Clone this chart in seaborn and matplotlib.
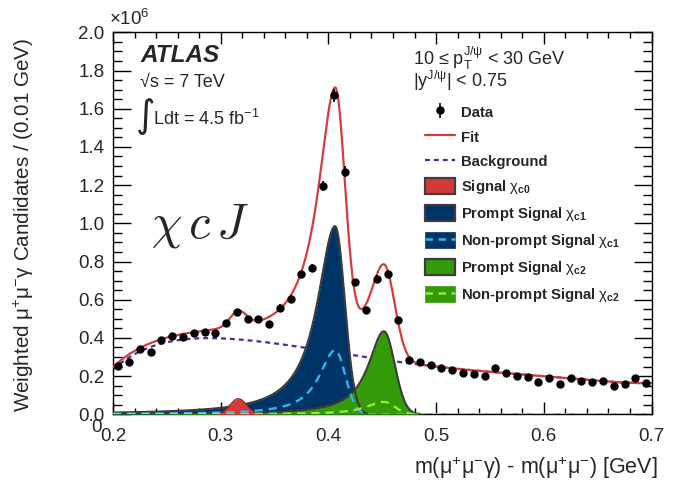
import numpy as np
import pandas as pd
import matplotlib
matplotlib.use("Agg")
import matplotlib.pyplot as plt
import seaborn as sns
from matplotlib.patches import Patch
from matplotlib.lines import Line2D
from matplotlib.legend_handler import HandlerTuple
from matplotlib.ticker import MultipleLocator, FormatStrFormatter

# ---- measured spectrum: weighted candidates per 0.01 GeV bin (units of 10^6) ----
bin_centers = [0.205, 0.215, 0.225, 0.235, 0.245, 0.255, 0.265, 0.275, 0.285, 0.295,
               0.305, 0.315, 0.325, 0.335, 0.345, 0.355, 0.365, 0.375, 0.385, 0.395,
               0.405, 0.415, 0.425, 0.435, 0.445, 0.455, 0.465, 0.475, 0.485, 0.495,
               0.505, 0.515, 0.525, 0.535, 0.545, 0.555, 0.565, 0.575, 0.585, 0.595,
               0.605, 0.615, 0.625, 0.635, 0.645, 0.655, 0.665, 0.675, 0.685, 0.695]
candidates = [0.253, 0.275, 0.340, 0.328, 0.389, 0.412, 0.407, 0.425, 0.433, 0.428,
              0.477, 0.533, 0.498, 0.498, 0.472, 0.558, 0.604, 0.732, 0.767, 1.196,
              1.670, 1.270, 0.691, 0.547, 0.710, 0.737, 0.495, 0.284, 0.272, 0.258,
              0.240, 0.232, 0.218, 0.209, 0.202, 0.242, 0.214, 0.202, 0.196, 0.168,
              0.189, 0.158, 0.189, 0.175, 0.168, 0.172, 0.149, 0.161, 0.189, 0.165]
candidate_errors = [0.013, 0.013, 0.014, 0.014, 0.015, 0.015, 0.015, 0.015, 0.015, 0.015,
                    0.016, 0.017, 0.016, 0.016, 0.016, 0.017, 0.018, 0.020, 0.020, 0.027,
                    0.035, 0.028, 0.019, 0.017, 0.019, 0.020, 0.016, 0.013, 0.013, 0.012,
                    0.012, 0.012, 0.012, 0.012, 0.012, 0.012, 0.012, 0.012, 0.011, 0.011,
                    0.011, 0.011, 0.011, 0.011, 0.011, 0.011, 0.010, 0.010, 0.011, 0.010]

# ---- fitted background, sampled along the curve ----
bkg_x = [0.200, 0.213, 0.228, 0.244, 0.261, 0.275, 0.292, 0.306, 0.322, 0.337, 0.353,
         0.368, 0.384, 0.400, 0.424, 0.450, 0.474, 0.500, 0.550, 0.600, 0.650, 0.700]
bkg_y = [0.232, 0.293, 0.337, 0.372, 0.386, 0.393, 0.398, 0.396, 0.389, 0.383, 0.373,
         0.360, 0.342, 0.327, 0.305, 0.287, 0.270, 0.252, 0.222, 0.198, 0.177, 0.164]

# ---- fitted signal line shapes: [mean, peak height, low-side width, high-side sigma] ----
chic0_shape = [0.3163, 0.082, 0.0078, 0.0078]
prompt_c1_shape = [0.4062, 0.985, 0.0200, 0.0090]
nonprompt_c1_shape = [0.4062, 0.335, 0.0180, 0.0095]
prompt_c2_shape = [0.4515, 0.435, 0.0175, 0.0100]
nonprompt_c2_shape = [0.4515, 0.065, 0.0200, 0.0100]

legend_labels = ["Data", "Fit", "Background",
                 r"Signal $\mathrm{\chi}_{\mathbf{c0}}$",
                 r"Prompt Signal $\mathrm{\chi}_{\mathbf{c1}}$",
                 r"Non-prompt Signal $\mathrm{\chi}_{\mathbf{c1}}$",
                 r"Prompt Signal $\mathrm{\chi}_{\mathbf{c2}}$",
                 r"Non-prompt Signal $\mathrm{\chi}_{\mathbf{c2}}$"]

# colours
C_FIT = "#d63c3c"
C_BKG = "#3434a8"
C_C0 = "#d23a3a"
C_C1 = "#003467"
C_C1NP = "#2fb6ea"
C_C2 = "#339a08"
C_C2NP = "#96e83c"
C_EDGE = "#3c3c3c"


def peak_shape(x, mean, height, low_width, high_sigma):
    """Asymmetric peak: Lorentzian low-mass tail, Gaussian high-mass edge."""
    d = x - mean
    low = height / (1.0 + (d / low_width) ** 2)
    high = height * np.exp(-0.5 * (d / high_sigma) ** 2)
    return np.where(d < 0, low, high)


def gauss_shape(x, mean, height, sigma, _unused):
    return height * np.exp(-0.5 * ((x - mean) / sigma) ** 2)


sns.set_style("ticks")
plt.rcParams["font.family"] = ["Liberation Sans", "DejaVu Sans"]
plt.rcParams["mathtext.fontset"] = "custom"
plt.rcParams["mathtext.rm"] = "Liberation Sans"
plt.rcParams["mathtext.it"] = "Liberation Sans:italic"
plt.rcParams["mathtext.bf"] = "Liberation Sans:bold"

W, H = 682, 484
fig = plt.figure(figsize=(W / 100, H / 100), dpi=100)
ax = fig.add_axes([113 / W, 1 - 414.3 / H, (651.5 - 113) / W, (414.3 - 32.3) / H])

# model curves on a fine grid
grid = np.linspace(0.2, 0.7, 1501)
bkg_coef = np.polyfit(bkg_x, bkg_y, 7)
bkg = np.polyval(bkg_coef, grid)
c0 = gauss_shape(grid, *chic0_shape)
c1p = peak_shape(grid, *prompt_c1_shape)
c1np = peak_shape(grid, *nonprompt_c1_shape)
c2p = peak_shape(grid, *prompt_c2_shape)
c2np = peak_shape(grid, *nonprompt_c2_shape)
fit = bkg + c0 + c1p + c1np + c2p + c2np

curves = pd.DataFrame({"x": grid, "bkg": bkg, "c0": c0, "c1p": c1p,
                       "c1np": c1np, "c2p": c2p, "c2np": c2np, "fit": fit})

# background underneath the signal fills
sns.lineplot(data=curves, x="x", y="bkg", ax=ax, color=C_BKG, lw=1.6,
             estimator=None, sort=False, zorder=2)
ax.lines[-1].set_dashes((2.2, 1.8))

# filled signal components
ax.fill_between(grid, 0, c1p, color=C_C1, lw=0, zorder=3)
ax.fill_between(grid, 0, c2p, color=C_C2, lw=0, zorder=3.2)
for col, z in (("c1p", 3.4), ("c2p", 3.5)):
    vis = curves[curves[col] > 1e-3]
    sns.lineplot(data=vis, x="x", y=col, ax=ax, color=C_EDGE, lw=1.5,
                 estimator=None, sort=False, zorder=z)
ax.fill_between(grid, 0, c0, color=C_C0, lw=0, zorder=3.6)
vis0 = curves[curves["c0"] > 1e-3]
sns.lineplot(data=vis0, x="x", y="c0", ax=ax, color="#7a2020", lw=0.8,
             estimator=None, sort=False, zorder=3.7)

# non-prompt components
for col, colour in (("c1np", C_C1NP), ("c2np", C_C2NP)):
    sns.lineplot(data=curves, x="x", y=col, ax=ax, color=colour, lw=1.7,
                 estimator=None, sort=False, zorder=4)
    ax.lines[-1].set_dashes((3.5, 2.5))

# total fit
sns.lineplot(data=curves, x="x", y="fit", ax=ax, color=C_FIT, lw=1.6,
             estimator=None, sort=False, zorder=5)

# data
data_handle = ax.errorbar(bin_centers, candidates, yerr=candidate_errors, fmt="o",
                          color="black", ms=5, elinewidth=1.2, capsize=0, zorder=6)

ax.set_xlim(0.2, 0.7)
ax.set_ylim(0.0, 2.0)
ax.xaxis.set_major_locator(MultipleLocator(0.1))
ax.xaxis.set_minor_locator(MultipleLocator(0.02))
ax.yaxis.set_major_locator(MultipleLocator(0.2))
ax.yaxis.set_minor_locator(MultipleLocator(0.05))
ax.xaxis.set_major_formatter(FormatStrFormatter("%.1f"))
ax.yaxis.set_major_formatter(FormatStrFormatter("%.1f"))
ax.tick_params(axis="both", which="both", direction="in", top=True, right=True,
               width=1.0, color="black", labelsize=13.5)
ax.tick_params(axis="x", which="major", length=8.5, pad=10)
ax.tick_params(axis="x", which="minor", length=4.3)
ax.tick_params(axis="y", which="major", length=13, pad=6)
ax.tick_params(axis="y", which="minor", length=6.5)
for s in ax.spines.values():
    s.set_linewidth(1.0)
    s.set_color("black")

ax.set_xlabel(r"m(μ$^{+}$μ$^{-}$γ) - m(μ$^{+}$μ$^{-}$) [GeV]", fontsize=15.5)
ax.xaxis.label.set_ha("right")
ax.xaxis.set_label_coords(1.011, -0.105)
ax.set_ylabel(r"Weighted μ$^{+}$μ$^{-}$γ Candidates / (0.01 GeV)", fontsize=14.9)
ax.yaxis.set_label_coords(-0.143, 0.495)


def fxy(px, py):
    return px / W, 1 - py / H


fig.text(*fxy(109, 25), r"×10$^{\mathregular{6}}$", fontsize=13.5, ha="left", va="baseline")
fig.text(*fxy(102, 427), "0", fontsize=13.5, ha="right", va="center")
fig.text(*fxy(141, 62), "ATLAS", fontsize=17.5, fontweight="bold", fontstyle="italic",
         ha="left", va="baseline")
fig.text(*fxy(140, 87), "√s = 7 TeV", fontsize=13, ha="left", va="baseline")
fig.text(*fxy(136, 117), "∫", fontsize=27, ha="left", va="center", family="DejaVu Sans")
fig.text(*fxy(153, 125), r"Ldt = 4.5 fb$^{\mathregular{-1}}$", fontsize=13,
         ha="left", va="baseline")
fig.text(*fxy(151, 237), r"$\chi\,c\,J$", fontsize=35, math_fontfamily="cm",
         ha="left", va="baseline")
fig.text(*fxy(413, 65), r"10 ≤ p$_{\mathregular{T}}^{\mathregular{J/ψ}}$ < 30 GeV",
         fontsize=13, ha="left", va="baseline")
fig.text(*fxy(413, 87), r"|y$^{\mathregular{J/ψ}}$| < 0.75", fontsize=13,
         ha="left", va="baseline")

# legend
fit_handle = Line2D([], [], color=C_FIT, lw=1.6)
bkg_handle = Line2D([], [], color=C_BKG, lw=1.6, dashes=(2.2, 1.8))
c0_handle = Patch(facecolor=C_C0, edgecolor=C_EDGE, lw=1.6)
c1p_handle = Patch(facecolor=C_C1, edgecolor=C_EDGE, lw=1.6)
c1np_handle = (Patch(facecolor=C_C1, edgecolor=C_C1, lw=0.5),
               Line2D([], [], color=C_C1NP, lw=1.8, dashes=(3.0, 2.2)))
c2p_handle = Patch(facecolor=C_C2, edgecolor=C_EDGE, lw=1.6)
c2np_handle = (Patch(facecolor=C_C2, edgecolor=C_C2, lw=0.5),
               Line2D([], [], color=C_C2NP, lw=1.8, dashes=(3.0, 2.2)))
handles = [data_handle, fit_handle, bkg_handle, c0_handle, c1p_handle,
           c1np_handle, c2p_handle, c2np_handle]
ax.legend(handles, legend_labels, loc="upper left",
          bbox_to_anchor=((425 - 113) / 538.5, (414.3 - 104) / 382.0),
          frameon=False, prop={"weight": "bold", "size": 10.7},
          handlelength=2.0, handleheight=1.25, labelspacing=0.6,
          handletextpad=0.45, borderaxespad=0, borderpad=0,
          handler_map={tuple: HandlerTuple(ndivide=1, pad=0)})

fig.savefig("out.png", dpi=100)
